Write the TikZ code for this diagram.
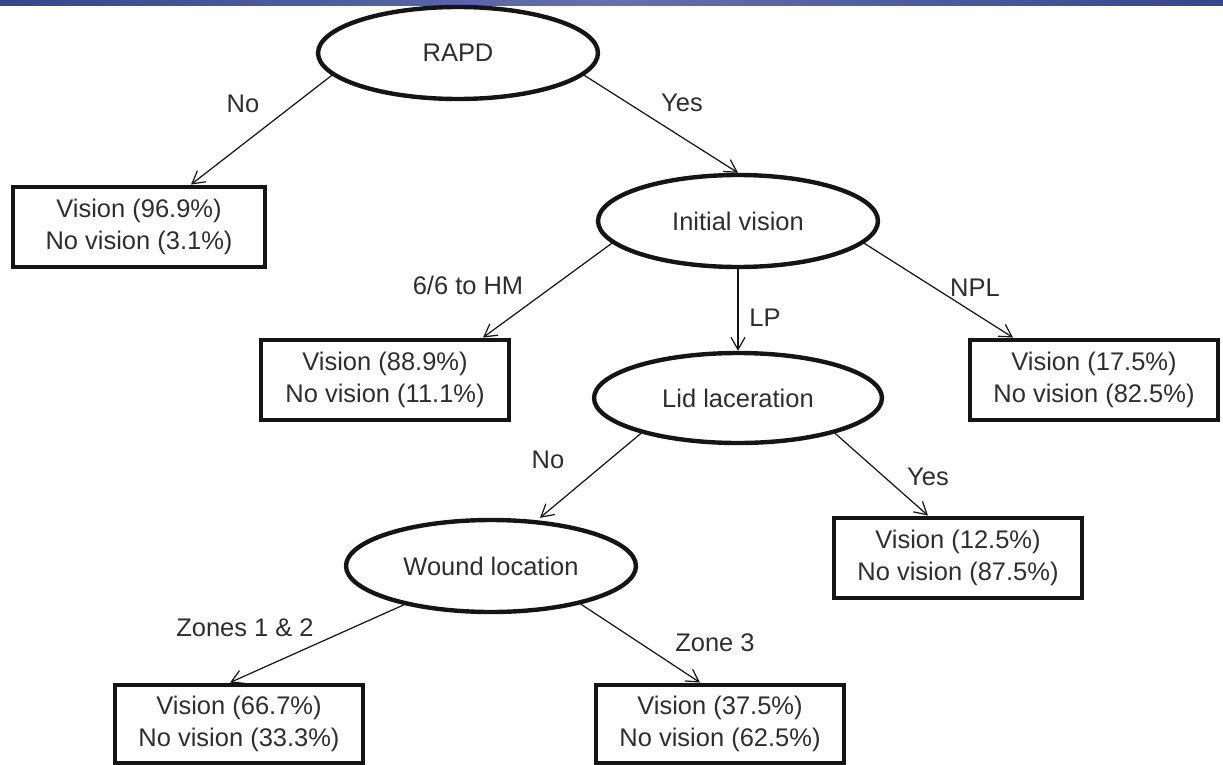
\documentclass[tikz,border=0pt]{standalone}
\usepackage{fontspec}
\setmainfont{Liberation Sans}
\usepackage{xcolor}
\usepackage{tikz}
\definecolor{treeInk}{HTML}{151515}
\definecolor{treeText}{HTML}{2E2E2E}
\definecolor{barDark}{HTML}{39448E}
\definecolor{barLight}{HTML}{6470B0}
\usetikzlibrary{arrows.meta,positioning,shapes.geometric,calc}

\begin{document}
\begin{tikzpicture}[
  x=0.02cm, y=-0.02cm,
  font=\fontsize{14.5}{18}\selectfont,
  split/.style={draw=treeInk, line width=2.5pt, ellipse, minimum width=5.6cm, minimum height=1.84cm, inner sep=0pt, text=treeText},
  outcome/.style={draw=treeInk, line width=2.8pt, minimum width=4.96cm, minimum height=1.6cm, inner sep=0pt, align=center, text=treeText},
  branch/.style={-{Straight Barb[length=7pt,width=8pt]}, line width=0.7pt, treeInk},
  brlabel/.style={text=treeText, inner sep=1pt}
]
\useasboundingbox (0,0) rectangle (1223,764);

% Header bar
\fill[left color=barDark, right color=barDark, middle color=barLight] (0,0) rectangle (1223,5);

% Split nodes
\node[split] (rapd) at (458,53) {RAPD};
\node[split] (init) at (738,221) {Initial vision};
\node[split, minimum width=5.76cm, minimum height=1.8cm] (lid) at (738,398) {Lid laceration};
\node[split, minimum width=5.8cm] (wound) at (491,566) {Wound location};

% Outcomes
\node[outcome, minimum width=5.04cm] (noRapd) at (139,227) {Vision (96.9\%)\\No vision (3.1\%)};
\node[outcome] (goodVis) at (385,380) {Vision (88.9\%)\\No vision (11.1\%)};
\node[outcome] (npl) at (1094,380) {Vision (17.5\%)\\No vision (82.5\%)};
\node[outcome] (lidYes) at (958,558) {Vision (12.5\%)\\No vision (87.5\%)};
\node[outcome, minimum height=1.56cm] (zone12) at (239,724) {Vision (66.7\%)\\No vision (33.3\%)};
\node[outcome, minimum height=1.56cm] (zone3) at (720,724) {Vision (37.5\%)\\No vision (62.5\%)};

% Branches
\draw[branch] (rapd.190) -- ($(noRapd.north)+(52,0)$) node[brlabel, at={(243,104)}] {No};
\draw[branch] (rapd.350) -- (init.north) node[brlabel, at={(682,103)}] {Yes};
\draw[branch] (init.190) -- ($(goodVis.north)+(98,0)$) node[brlabel, at={(468,285)}] {6/6 to HM};
\draw[branch] (init.south) -- (lid.north) node[brlabel, at={(765,318)}] {LP};
\draw[branch] (init.350) -- ($(npl.north)+(-81,0)$) node[brlabel, at={(975,288)}] {NPL};
\draw[branch] (lid.200) -- ($(wound.north)+(49,0)$) node[brlabel, at={(548,460)}] {No};
\draw[branch] (lid.340) -- ($(lidYes.north)+(-30,0)$) node[brlabel, at={(928,477)}] {Yes};
\draw[branch] (wound.204) -- ($(zone12.north)+(-9,0)$) node[brlabel, at={(245,628)}] {Zones 1 \& 2};
\draw[branch] (wound.337) -- ($(zone3.north)+(-20,0)$) node[brlabel, at={(715,643)}] {Zone 3};

\end{tikzpicture}
\end{document}
